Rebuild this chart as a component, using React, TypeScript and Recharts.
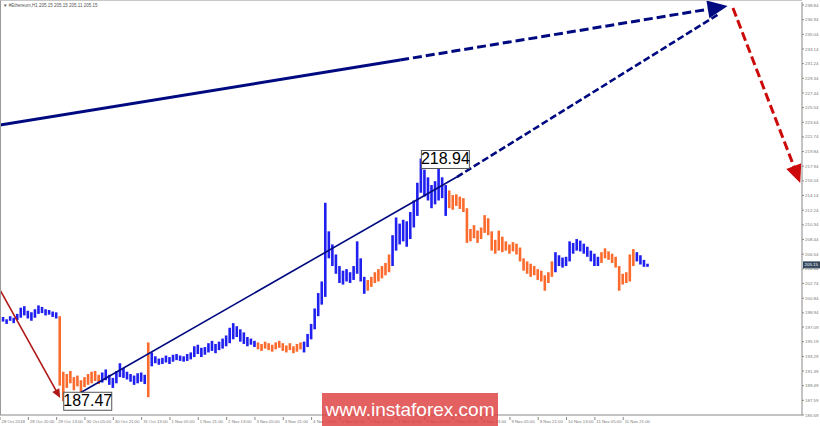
import React from 'react';
import { ComposedChart, Bar, Cell, XAxis, YAxis, ReferenceLine, ReferenceDot } from 'recharts';

// ---- data ----
const hoursPerBar = 2;
const lows = [
  197.6, 197.8, 197.5, 197.9, 197.6, 198.0, 198.3, 198.6, 198.2, 197.9,
  198.3, 198.8, 198.9, 198.6, 198.7, 198.4, 198.2, 189.5, 187.47, 189.2,
  189.8, 188.9, 189.4, 188.6, 189.3, 189.6, 189.8, 190.1, 189.7, 189.9,
  190.2, 189.6, 189.2, 189.8, 190.6, 190.5, 190.3, 190.0, 189.6, 189.8,
  190.0, 189.7, 188.0, 192.0, 192.4, 192.2, 192.3, 192.5, 192.3, 192.6,
  192.8, 192.7, 192.6, 192.7, 192.9, 193.2, 193.6, 193.2, 193.5, 193.8,
  194.0, 193.7, 194.1, 194.3, 194.6, 195.0, 195.5, 195.8, 195.2, 194.9,
  194.6, 194.8, 194.5, 194.2, 194.0, 194.3, 194.1, 193.9, 194.2, 194.4,
  194.0, 193.8, 194.1, 193.7, 193.9, 194.2, 193.8, 194.5, 195.5, 196.8,
  198.5, 200.0, 201.0, 206.0, 205.0, 204.0, 202.8, 202.6, 203.0, 202.8,
  203.2, 204.0, 203.0, 201.4, 201.8, 202.3, 202.8, 203.0, 203.4, 203.8,
  204.2, 205.0, 207.0, 207.8, 208.2, 207.5, 208.5, 210.0, 211.5, 214.5,
  214.0, 213.5, 212.5, 213.0, 213.5, 213.8, 211.5, 212.5, 212.3, 212.8,
  212.4, 212.0, 208.0, 208.2, 208.6, 208.0, 208.5, 209.3, 209.0, 207.0,
  206.6, 207.0, 206.8, 207.0, 206.6, 206.9, 206.5, 205.6, 204.4, 204.0,
  203.6, 203.8, 203.2, 203.0, 201.8, 202.8, 203.6, 204.2, 205.0, 204.8,
  205.0, 205.6, 206.6, 207.0, 206.9, 206.6, 206.2, 205.6, 205.0, 205.0,
  205.4, 206.0, 205.8, 205.4, 204.8, 201.8, 202.6, 202.8, 203.0, 205.0,
  205.6, 205.2, 204.9, 204.9,
];
const highs = [
  198.2, 198.4, 198.1, 198.5, 198.3, 198.8, 199.6, 199.8, 199.2, 199.0,
  199.4, 199.9, 199.7, 199.4, 199.3, 199.1, 199.0, 198.5, 191.3, 191.0,
  191.4, 190.6, 190.8, 190.2, 190.6, 191.0, 191.3, 191.4, 190.9, 191.2,
  191.6, 190.9, 190.5, 191.4, 192.4, 191.8, 191.3, 191.0, 190.8, 191.1,
  191.2, 190.9, 195.1, 193.8, 193.3, 193.0, 193.1, 193.4, 193.2, 193.5,
  193.6, 193.4, 193.3, 193.6, 193.8, 194.6, 194.8, 194.4, 194.5, 195.0,
  195.3, 194.9, 195.2, 195.6, 196.0, 197.0, 197.6, 197.2, 196.8, 196.4,
  195.8, 195.6, 195.3, 195.1, 194.9, 195.2, 195.0, 194.8, 195.1, 195.3,
  195.0, 194.7, 195.0, 194.6, 194.9, 195.1, 195.2, 196.2, 197.5, 199.5,
  201.5, 203.0, 213.2, 209.5, 207.8, 206.5, 205.0, 204.4, 204.6, 204.2,
  205.0, 208.2, 206.0, 203.6, 203.2, 203.6, 204.2, 204.6, 205.0, 205.4,
  206.5, 209.0, 211.3, 210.5, 211.0, 210.8, 212.0, 213.5, 215.8, 218.94,
  217.5, 216.5, 215.5, 216.0, 217.8, 216.5, 215.5, 214.8, 214.2, 214.3,
  214.0, 213.8, 212.5, 209.8, 210.3, 209.6, 210.0, 211.6, 211.2, 209.5,
  208.4, 209.6, 208.8, 208.2, 207.8, 208.1, 207.9, 207.4, 206.0, 205.6,
  205.3, 205.0, 204.6, 204.4, 203.8, 204.2, 205.6, 206.8, 206.4, 206.1,
  206.2, 208.2, 208.0, 208.5, 208.3, 207.9, 207.5, 207.0, 206.6, 206.2,
  206.8, 207.3, 206.9, 206.6, 206.2, 205.0, 204.0, 204.2, 206.5, 207.2,
  206.8, 206.4, 205.8, 205.3,
];
// bar indices where the zigzag wave (colour) changes; first wave is rising
const waveStarts = [0, 17, 29, 42, 43, 73, 86, 104, 111, 127, 157, 170, 180];

const xTickHours = [0, 16, 32, 48, 64, 80, 96, 112, 128, 144, 160, 176, 192, 208, 224, 240, 256, 272, 288, 304, 320, 336, 352];
const xTickLabels = [
  '28 Oct 2018', '28 Oct 20:00', '29 Oct 13:00', '30 Oct 05:00', '30 Oct 21:00', '31 Oct 13:00',
  '1 Nov 05:00', '1 Nov 21:00', '2 Nov 13:00', '3 Nov 05:00', '3 Nov 21:00', '4 Nov 13:00',
  '5 Nov 05:00', '5 Nov 21:00', '6 Nov 13:00', '7 Nov 05:00', '7 Nov 21:00', '8 Nov 13:00',
  '9 Nov 05:00', '9 Nov 21:00', '10 Nov 13:00', '11 Nov 05:00', '11 Nov 21:00',
];
const yTicks = [
  238.84, 236.94, 235.04, 233.14, 231.24, 229.34, 227.44, 225.54, 223.64, 221.74, 219.84,
  217.94, 216.04, 214.14, 212.24, 210.34, 208.44, 206.54, 204.64, 202.74, 200.84, 198.94,
  197.09, 195.19, 193.29, 191.39, 189.49, 187.59, 185.69,
];
const symbol = '#Ethereum,H1';
const ohlc = [205.15, 205.15, 205.11, 205.15];
const lastPrice = 205.15;
const lowLabel = { h: 36, price: 187.47 };
const highLabel = { h: 238, price: 218.94 };

// wave lines (time in hours, price)
const bigArrowSolid = [{ x: 0, y: 223.29 }, { x: 226, y: 231.71 }];
const bigArrowDashed = [{ x: 226, y: 231.71 }, { x: 411, y: 238.71 }];
const trendSolid = [{ x: 38, y: 187.6 }, { x: 258, y: 216.54 }];
const trendDashed = [{ x: 258, y: 216.54 }, { x: 406, y: 237.67 }];
const redDashed = [{ x: 414, y: 238.45 }, { x: 452, y: 215.77 }];
const redSolid = [{ x: 0, y: 201.9 }, { x: 34, y: 187.9 }];

const BLUE = '#1f1ff0';
const ORANGE = '#fb6b2d';
const NAVY = '#000a80';
const RED = '#cc0a0a';
const AXIS_FONT = "'Liberation Sans', Arial, sans-serif";

const data = lows.map((lo, i) => ({ h: i * hoursPerBar, range: [lo, highs[i]] }));
const waveColor = (i: number) => {
  const n = waveStarts.filter((s) => s <= i).length;
  return n % 2 === 1 ? BLUE : ORANGE;
};

const arrowShape = (color: string, width: number, dash?: string, head?: { len: number; w: number }) => (p: any) => {
  const { x1, y1, x2, y2 } = p;
  if ([x1, y1, x2, y2].some((v) => v == null || isNaN(v))) return <g />;
  const ang = Math.atan2(y2 - y1, x2 - x1);
  const c = Math.cos(ang);
  const s = Math.sin(ang);
  let lx = x2;
  let ly = y2;
  let poly = null;
  if (head) {
    const bx = x2 - head.len * c;
    const by = y2 - head.len * s;
    lx = bx + 2 * c;
    ly = by + 2 * s;
    poly = (
      <polygon
        points={`${x2},${y2} ${bx + head.w * s},${by - head.w * c} ${bx - head.w * s},${by + head.w * c}`}
        fill={color}
      />
    );
  }
  return (
    <g>
      <line x1={x1} y1={y1} x2={lx} y2={ly} stroke={color} strokeWidth={width} strokeDasharray={dash} />
      {poly}
    </g>
  );
};

const priceBox = (text: string, dy: number) => (p: any) => {
  const { cx, cy } = p;
  if (cx == null || cy == null) return <g />;
  return (
    <g>
      <rect x={cx} y={cy + dy} width={48} height={18} fill="#ffffff" stroke="#555" strokeWidth={1} />
      <text
        x={cx + 24}
        y={cy + dy + 9.5}
        textAnchor="middle"
        dominantBaseline="middle"
        fontSize={16}
        fontFamily="'Liberation Sans', Arial, sans-serif"
        fill="#000"
      >
        {text}
      </text>
    </g>
  );
};

const lastPriceShape = (p: any) => {
  const { x1, x2, y1 } = p;
  if (x1 == null || x2 == null || y1 == null) return <g />;
  const xr = Math.max(x1, x2);
  return (
    <g>
      <rect x={xr + 1} y={y1 - 3.5} width={17} height={7} fill="#34475d" />
      <text x={xr + 2.5} y={y1 + 0.3} dominantBaseline="middle" fontSize={4.4} fill="#ffffff" fontFamily={AXIS_FONT}>
        {lastPrice.toFixed(2)}
      </text>
    </g>
  );
};

const XTick = (p: any) => {
  const { x, y, payload } = p;
  const idx = xTickHours.indexOf(payload.value);
  return (
    <g>
      <line x1={x} y1={y - 3} x2={x} y2={y} stroke="#888" strokeWidth={1} />
      <text x={x + 1.5} y={y + 2.5} fontSize={4.3} fill="#777" fontFamily={AXIS_FONT}>
        {idx >= 0 ? xTickLabels[idx] : ''}
      </text>
    </g>
  );
};

export default function App() {
  return (
    <div style={{ position: 'absolute', left: 0, top: 0, width: 820, height: 426, background: '#ffffff', overflow: 'hidden' }}>
      <ComposedChart width={820} height={426} data={data} margin={{ top: 2, right: 0, bottom: 0, left: 0 }}>
        <XAxis
          dataKey="h"
          type="number"
          domain={[0, 453]}
          ticks={xTickHours}
          interval={0}
          height={11}
          tickSize={3}
          axisLine={{ stroke: '#888' }}
          tickLine={false}
          tick={<XTick />}
          allowDataOverflow
        />
        <YAxis
          orientation="right"
          type="number"
          width={18}
          domain={[185.69, 239.23]}
          ticks={yTicks}
          interval={0}
          tickSize={2}
          tickMargin={1}
          axisLine={{ stroke: '#888' }}
          tickLine={{ stroke: '#888' }}
          tick={{ fontSize: 4.4, fill: '#777', fontFamily: AXIS_FONT }}
          tickFormatter={(v: number) => v.toFixed(2)}
          allowDataOverflow
        />
        <Bar dataKey="range" barSize={2.6} isAnimationActive={false}>
          {data.map((d, i) => (
            <Cell key={i} fill={waveColor(i)} />
          ))}
        </Bar>
        <ReferenceLine segment={redSolid} ifOverflow="visible" shape={arrowShape('#b01818', 1.6, undefined, { len: 9, w: 4 })} />
        <ReferenceLine segment={trendSolid} ifOverflow="visible" shape={arrowShape(NAVY, 1.6)} />
        <ReferenceLine segment={trendDashed} ifOverflow="visible" shape={arrowShape(NAVY, 2.6, '7 3')} />
        <ReferenceLine segment={bigArrowSolid} ifOverflow="visible" shape={arrowShape(NAVY, 3)} />
        <ReferenceLine segment={bigArrowDashed} ifOverflow="visible" shape={arrowShape(NAVY, 3, '9 4', { len: 20, w: 9 })} />
        <ReferenceLine segment={redDashed} ifOverflow="visible" shape={arrowShape(RED, 3, '9 4', { len: 18, w: 8 })} />
        <ReferenceLine y={lastPrice} ifOverflow="visible" shape={lastPriceShape} />
        <ReferenceDot x={lowLabel.h} y={lowLabel.price} ifOverflow="visible" shape={priceBox(lowLabel.price.toFixed(2), -9)} />
        <ReferenceDot x={highLabel.h} y={highLabel.price} ifOverflow="visible" shape={priceBox(highLabel.price.toFixed(2), -8)} />
      </ComposedChart>
      <div style={{ position: 'absolute', left: 0, top: 0, width: 802, height: 415, borderLeft: '1px solid #9a9a9a', borderTop: '1px solid #c8c8c8', boxSizing: 'border-box', pointerEvents: 'none' }} />
      <svg style={{ position: 'absolute', left: 0, top: 0 }} width={200} height={12}>
        <text x={3} y={6.5} fontSize={4.5} fill="#555" fontFamily={AXIS_FONT}>
          {'▼  ' + symbol + '  ' + ohlc.map((v) => v.toFixed(2)).join(' ')}
        </text>
      </svg>
      <div
        style={{
          position: 'absolute',
          left: 322,
          top: 393,
          width: 176,
          height: 33,
          background: 'rgba(222, 62, 62, 0.82)',
          color: '#ffffff',
          fontSize: 19,
          lineHeight: '33px',
          textAlign: 'center',
          fontFamily: "'Liberation Sans', Arial, sans-serif",
        }}
      >
        www.instaforex.com
      </div>
    </div>
  );
}
